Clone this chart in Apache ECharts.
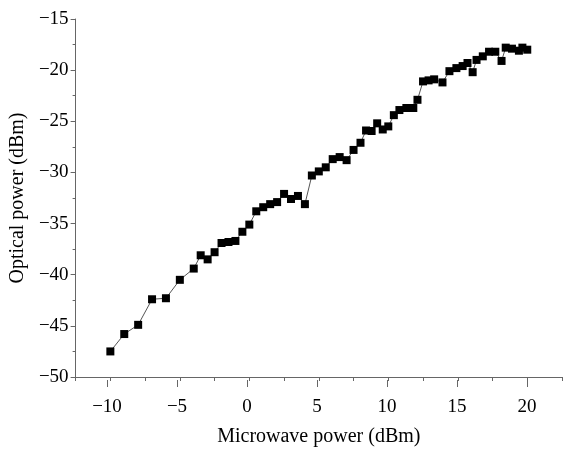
<!DOCTYPE html>
<html>
<head>
<meta charset="utf-8">
<script src="https://cdn.jsdelivr.net/npm/echarts@6/dist/echarts.min.js"></script>
<style>html,body{margin:0;padding:0;background:#fff;}#c{width:564px;height:452px;}</style>
</head>
<body>
<div id="c"></div>
<script>
var microwavePower = [-10,-9,-8,-7,-6,-5,-4,-3.5,-3,-2.5,-2,-1.5,-1,-0.5,0,0.5,1,1.5,2,2.5,3,3.5,4,4.5,5,5.5,6,6.5,7,7.5,8,8.4,8.8,9.2,9.6,10,10.4,10.8,11.3,11.8,12.1,12.5,12.9,13.3,13.9,14.4,14.9,15.35,15.7,16.07,16.35,16.8,17.25,17.7,18.15,18.45,18.9,19.4,19.65,20];
var opticalPower = [-47.5,-45.8,-44.9,-42.4,-42.3,-40.5,-39.4,-38.1,-38.5,-37.8,-36.9,-36.8,-36.7,-35.8,-35.1,-33.8,-33.4,-33.1,-32.9,-32.1,-32.6,-32.3,-33.1,-30.3,-29.9,-29.5,-28.7,-28.5,-28.8,-27.8,-27.1,-25.9,-25.95,-25.2,-25.8,-25.5,-24.4,-23.9,-23.7,-23.7,-22.9,-21.1,-21.0,-20.9,-21.2,-20.1,-19.8,-19.6,-19.3,-20.2,-19.0,-18.65,-18.2,-18.2,-19.1,-17.8,-17.9,-18.1,-17.8,-18.0];
var xTitle = 'Microwave power (dBm)';
var yTitle = 'Optical power (dBm)';

var fmt = function (v) { return v < 0 ? '\u2212' + Math.abs(v) : String(v); };
var axisColor = '#666';
var font = '"Liberation Serif", "Times New Roman", serif';
var points = microwavePower.map(function (x, i) { return [x, opticalPower[i]]; });

var chart = echarts.init(document.getElementById('c'), null, {renderer: 'canvas'});
chart.setOption({
  animation: false,
  backgroundColor: '#fff',
  grid: [
    {left: 72, right: 2, top: 19, bottom: 72},
    {left: 107, right: 37, top: 19, bottom: 72}
  ],
  xAxis: [
    {
      type: 'value', gridIndex: 0, min: -12.5, max: 22.5, interval: 2.5,
      axisLine: {show: true, onZero: false, lineStyle: {color: axisColor, width: 1}},
      axisTick: {show: true, length: 4, lineStyle: {color: axisColor}},
      axisLabel: {show: false},
      splitLine: {show: false},
      name: xTitle, nameLocation: 'middle', nameGap: 50,
      nameTextStyle: {fontFamily: font, fontSize: 20, color: '#000'}
    },
    {
      type: 'value', gridIndex: 1, min: -10, max: 20, interval: 5,
      axisLine: {show: false, onZero: false},
      axisTick: {show: true, length: 7, lineStyle: {color: axisColor}},
      axisLabel: {show: true, margin: 18, formatter: fmt, fontFamily: font, fontSize: 19, color: '#000'},
      splitLine: {show: false}
    }
  ],
  yAxis: [
    {
      type: 'value', gridIndex: 0, min: -50, max: -15, interval: 5,
      axisLine: {show: true, onZero: false, lineStyle: {color: axisColor, width: 1}},
      axisTick: {show: true, length: 5, lineStyle: {color: axisColor}},
      minorTick: {show: true, splitNumber: 2, length: 3, lineStyle: {color: axisColor}},
      axisLabel: {show: true, margin: 7, formatter: fmt, fontFamily: font, fontSize: 19, color: '#000'},
      splitLine: {show: false},
      name: yTitle, nameLocation: 'middle', nameGap: 35,
      nameTextStyle: {fontFamily: font, fontSize: 20, color: '#000'}
    },
    {
      type: 'value', gridIndex: 1, min: -50, max: -15, show: false,
      axisLine: {onZero: false}, splitLine: {show: false}
    }
  ],
  series: [{
    type: 'line', xAxisIndex: 0, yAxisIndex: 0,
    data: points,
    symbol: 'rect', symbolSize: 8,
    itemStyle: {color: '#000'},
    lineStyle: {color: '#555', width: 1},
    z: 5
  }]
});
</script>
</body>
</html>
